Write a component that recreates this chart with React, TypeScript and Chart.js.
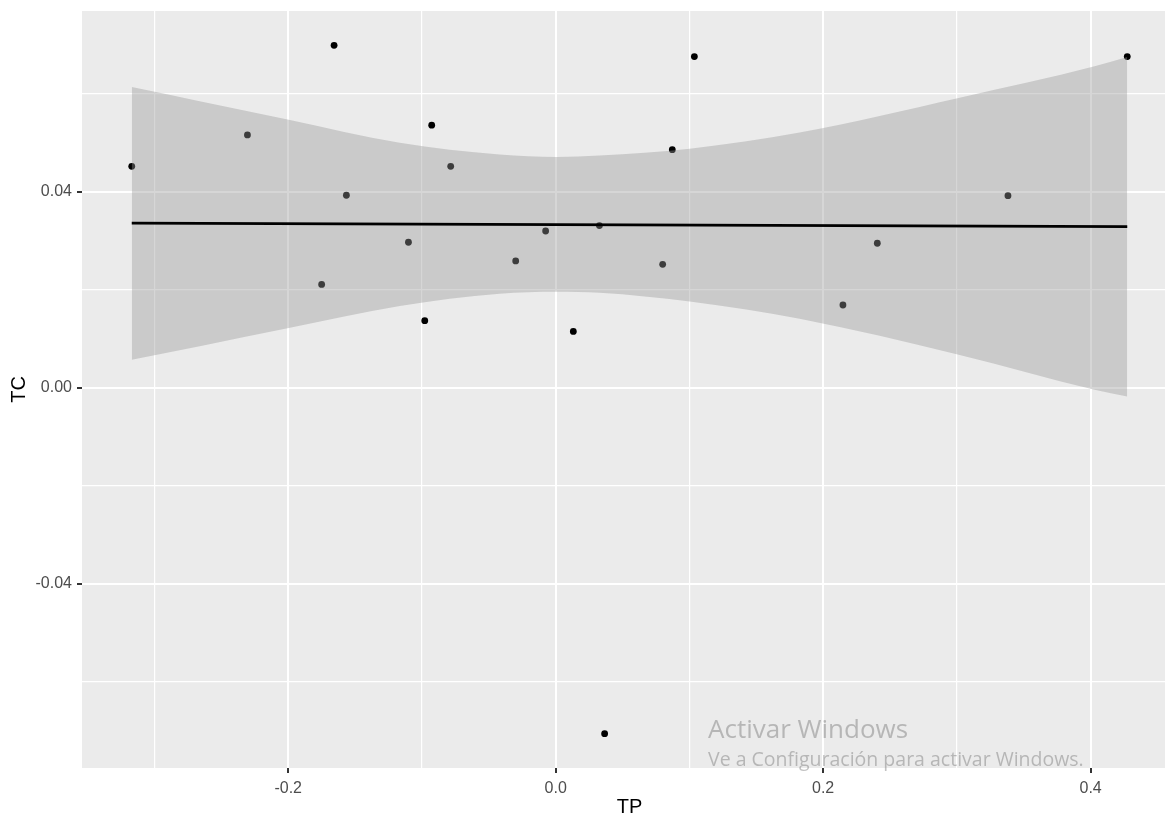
import React, { useEffect, useRef } from "react";
import { Chart, registerables } from "chart.js";

Chart.register(...registerables);

// Scatter observations (TP, TC)
const tpValues = [
  -0.317, -0.2305, -0.175, -0.1657, -0.1565, -0.1101, -0.0979, -0.0927, -0.0785, -0.0299, -0.0075,
  0.0132, 0.0327, 0.0366, 0.08, 0.0872, 0.1037, 0.2148, 0.2405, 0.3382, 0.4274,
];
const tcValues = [
  0.0452, 0.0516, 0.0211, 0.0699, 0.0393, 0.0297, 0.0137, 0.0536, 0.0452, 0.0259, 0.032,
  0.0115, 0.0331, -0.0706, 0.0252, 0.0486, 0.0676, 0.0169, 0.0295, 0.0392, 0.0676,
];

// Linear fit line
const fitX = [-0.317, 0.4274];
const fitY = [0.0336, 0.0329];

// Confidence band
const bandX = [-0.317, -0.2662, -0.1996, -0.1166, -0.0419, 0.0007, 0.0329, 0.1002, 0.1824, 0.3021, 0.403, 0.4274];
const bandUpper = [0.0614, 0.0585, 0.0547, 0.05, 0.0476, 0.0471, 0.0474, 0.0488, 0.0521, 0.0592, 0.0656, 0.0675];
const bandLower = [0.0057, 0.0085, 0.0122, 0.0167, 0.0192, 0.0196, 0.0194, 0.0176, 0.0141, 0.0067, -0.0004, -0.0018];

// Axis ticks
const xMajorTicks = [-0.2, 0, 0.2, 0.4];
const xMajorLabels = ["-0.2", "0.0", "0.2", "0.4"];
const xMinorTicks = [-0.3, -0.1, 0.1, 0.3];
const yMajorTicks = [-0.04, 0, 0.04];
const yMajorLabels = ["-0.04", "0.00", "0.04"];
const yMinorTicks = [-0.06, -0.02, 0.02, 0.06];

const FONT = '"Liberation Sans", Arial, sans-serif';

const findIdx = (arr: number[], v: number) => arr.findIndex((a) => Math.abs(a - v) < 1e-9);

const panelBg = {
  id: "panelBg",
  beforeDraw(chart: any) {
    const { ctx, chartArea } = chart;
    ctx.save();
    ctx.fillStyle = "#EBEBEB";
    ctx.fillRect(chartArea.left, chartArea.top, chartArea.right - chartArea.left, chartArea.bottom - chartArea.top);
    ctx.restore();
  },
};

export default function App() {
  const ref = useRef<HTMLCanvasElement>(null);

  useEffect(() => {
    document.body.style.margin = "0";
    const canvas = ref.current;
    if (!canvas) return;

    const gridOpts = (major: number[]) => ({
      color: "#FFFFFF",
      lineWidth: (ctx: any) => (ctx.tick && findIdx(major, ctx.tick.value) >= 0 ? 2 : 1.2),
      tickColor: (ctx: any) => (ctx.tick && findIdx(major, ctx.tick.value) >= 0 ? "#333333" : "rgba(0,0,0,0)"),
      tickWidth: 2,
      tickLength: 5,
      drawTicks: true,
    });

    const chart = new Chart(canvas, {
      type: "scatter",
      data: {
        datasets: [
          {
            label: "fit",
            data: fitX.map((x, i) => ({ x, y: fitY[i] })),
            showLine: true,
            borderColor: "#000000",
            borderWidth: 2.7,
            pointRadius: 0,
            fill: false,
            order: 1,
          },
          {
            label: "upper",
            data: bandX.map((x, i) => ({ x, y: bandUpper[i] })),
            showLine: true,
            borderWidth: 0,
            borderColor: "rgba(0,0,0,0)",
            backgroundColor: "rgba(153,153,153,0.4)",
            pointRadius: 0,
            cubicInterpolationMode: "monotone",
            fill: "+1",
            order: 2,
          },
          {
            label: "lower",
            data: bandX.map((x, i) => ({ x, y: bandLower[i] })),
            showLine: true,
            borderWidth: 0,
            borderColor: "rgba(0,0,0,0)",
            pointRadius: 0,
            cubicInterpolationMode: "monotone",
            fill: false,
            order: 2,
          },
          {
            label: "points",
            data: tpValues.map((x, i) => ({ x, y: tcValues[i] })),
            pointRadius: 3.4,
            pointBackgroundColor: "#000000",
            pointBorderWidth: 0,
            backgroundColor: "#000000",
            order: 3,
          },
        ],
      } as any,
      options: {
        animation: false,
        responsive: false,
        devicePixelRatio: 1,
        layout: { padding: { top: 11, right: 0, bottom: 0, left: 0 } },
        plugins: { legend: { display: false }, tooltip: { enabled: false } },
        scales: {
          x: {
            type: "linear",
            min: -0.3542,
            max: 0.4646,
            afterBuildTicks: (s: any) => {
              s.ticks = [...xMinorTicks, ...xMajorTicks].sort((a, b) => a - b).map((v) => ({ value: v }));
            },
            afterFit: (s: any) => {
              s.height = 49;
              s.paddingLeft = 0;
              s.paddingRight = 0;
            },
            ticks: {
              autoSkip: false,
              maxRotation: 0,
              color: "#4D4D4D",
              font: { family: FONT, size: 16 },
              padding: 6,
              callback: (v: any) => {
                const i = findIdx(xMajorTicks, Number(v));
                return i >= 0 ? xMajorLabels[i] : "";
              },
            },
            grid: gridOpts(xMajorTicks) as any,
            border: { display: false },
            title: {
              display: true,
              text: "TP",
              color: "#000000",
              font: { family: FONT, size: 20, lineHeight: 1 },
              padding: { top: 0, bottom: 0 },
            },
          },
          y: {
            type: "linear",
            min: -0.0776,
            max: 0.0769,
            afterBuildTicks: (s: any) => {
              s.ticks = [...yMinorTicks, ...yMajorTicks].sort((a, b) => a - b).map((v) => ({ value: v }));
            },
            afterFit: (s: any) => {
              s.width = 82;
              s.paddingTop = 0;
              s.paddingBottom = 0;
            },
            ticks: {
              autoSkip: false,
              color: "#4D4D4D",
              font: { family: FONT, size: 16 },
              padding: 5,
              callback: (v: any) => {
                const i = findIdx(yMajorTicks, Number(v));
                return i >= 0 ? yMajorLabels[i] : "";
              },
            },
            grid: gridOpts(yMajorTicks) as any,
            border: { display: false },
            title: {
              display: true,
              text: "TC",
              color: "#000000",
              font: { family: FONT, size: 20, lineHeight: 1 },
              padding: { top: 9, bottom: 0 },
            },
          },
        },
      } as any,
      plugins: [panelBg],
    });

    return () => chart.destroy();
  }, []);

  return (
    <div style={{ position: "relative", width: 1165, height: 817, overflow: "hidden", background: "#FFFFFF" }}>
      <canvas ref={ref} width={1181} height={817} style={{ display: "block" }} />
      <div
        style={{
          position: "absolute",
          left: 708,
          top: 712,
          fontFamily: '"Open Sans", "Noto Sans", sans-serif',
          fontSize: 26,
          color: "rgba(110,110,110,0.42)",
          whiteSpace: "nowrap",
          lineHeight: "32px",
          pointerEvents: "none",
        }}
      >
        Activar Windows
      </div>
      <div
        style={{
          position: "absolute",
          left: 708,
          top: 746,
          fontFamily: '"Open Sans", "Noto Sans", sans-serif',
          fontSize: 19.5,
          color: "rgba(110,110,110,0.42)",
          whiteSpace: "nowrap",
          lineHeight: "26px",
          pointerEvents: "none",
        }}
      >
        Ve a Configuración para activar Windows.
      </div>
    </div>
  );
}
